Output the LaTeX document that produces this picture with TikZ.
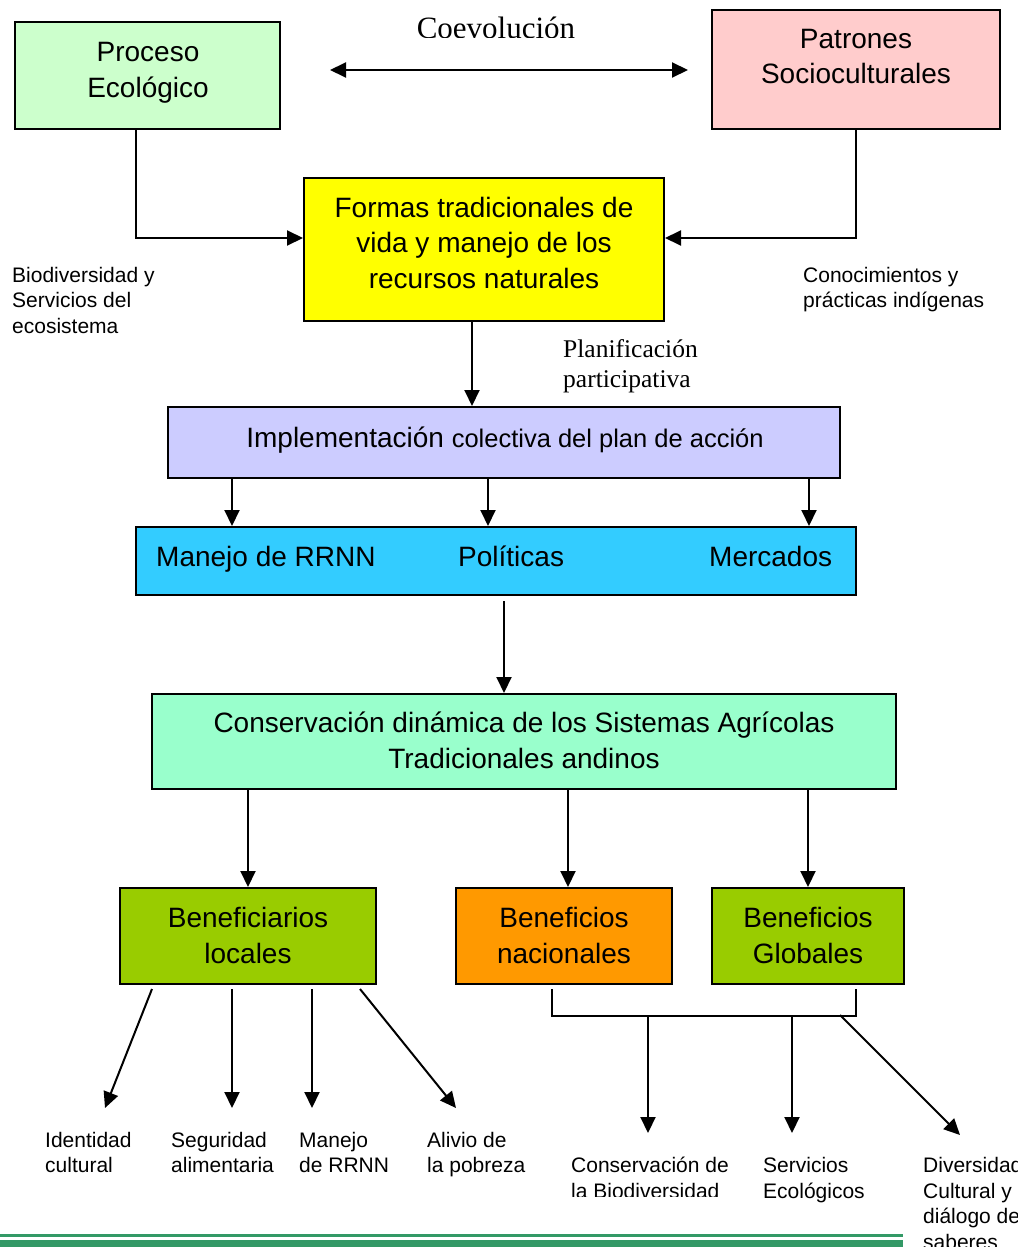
\documentclass[tikz,border=0pt]{standalone}
\usepackage{fontspec}
\setmainfont{Liberation Serif}
\setsansfont{Liberation Sans}
\usetikzlibrary{arrows.meta,calc}
\definecolor{cProc}{HTML}{CCFFCC}
\definecolor{cPatr}{HTML}{FFCCCC}
\definecolor{cForm}{HTML}{FFFF00}
\definecolor{cImpl}{HTML}{CCCCFF}
\definecolor{cBlue}{HTML}{33CCFF}
\definecolor{cCons}{HTML}{99FFCC}
\definecolor{cLime}{HTML}{99CC00}
\definecolor{cOran}{HTML}{FF9900}
\definecolor{cBar}{HTML}{339966}
\newcommand\bigf{\fontsize{28}{35.5}\selectfont}
\newcommand\midf{\fontsize{25.5}{30}\selectfont}
\newcommand\smallf{\fontsize{21}{25.5}\selectfont}
\newcommand\serf{\fontsize{25.5}{30}\selectfont}
\newcommand\coevf{\fontsize{31}{36}\selectfont}
\begin{document}
\begin{tikzpicture}[x=1pt,y=-1pt,
  box/.style={draw,line width=2pt,inner sep=0pt,rectangle},
  txt/.style={inner sep=0pt,anchor=base,align=center,font=\sffamily\bigf},
  btxt/.style={inner sep=0pt,anchor=base west,font=\sffamily\bigf},
  lbl/.style={inner sep=0pt,anchor=base west,align=left,font=\sffamily\smallf},
  stxt/.style={inner sep=0pt,anchor=base west,align=left,font=\rmfamily\serf},
  tipA/.tip={Triangle[length=16pt,width=15pt]},
  arr/.style={line width=2pt,-tipA},
  ln/.style={line width=2pt}]
\useasboundingbox (0,0) rectangle (1017,1247);

% boxes
\node[box,fill=cProc,minimum width=265pt,minimum height=107pt] (proc) at (147.5,75.5) {};
\node[box,fill=cPatr,minimum width=288pt,minimum height=119pt] (patr) at (856,69.5) {};
\node[box,fill=cForm,minimum width=360pt,minimum height=143pt] (formas) at (484,249.5) {};
\node[box,fill=cImpl,minimum width=672pt,minimum height=71pt] (impl) at (504,442.5) {};
\node[box,fill=cBlue,minimum width=720pt,minimum height=68pt] (blue) at (496,561) {};
\node[box,fill=cCons,minimum width=744pt,minimum height=95pt] (cons) at (524,741.5) {};
\node[box,fill=cLime,minimum width=256pt,minimum height=96pt] (benL) at (248,936) {};
\node[box,fill=cOran,minimum width=216pt,minimum height=96pt] (benN) at (564,936) {};
\node[box,fill=cLime,minimum width=192pt,minimum height=96pt] (benG) at (808,936) {};

% box texts (base = last line's baseline)
\node[txt] (procT) at (148,97) {Proceso\\Ecológico};
\node[txt] (patrT) at (856,84) {Patrones\\Socioculturales};
\node[txt] (formasT) at (484,288) {Formas tradicionales de\\vida y manejo de los\\recursos naturales};
\node[txt] (implT) at (505,447) {Implementación {\midf colectiva del plan de acción}};
\node[btxt] (bl1) at (156,566) {Manejo de RRNN};
\node[btxt] (bl2) at (458,566) {Políticas};
\node[btxt] (bl3) at (709,566) {Mercados};
\node[txt] (consT) at (524,768) {Conservación dinámica de los Sistemas Agrícolas\\Tradicionales andinos};
\node[txt] (benLT) at (248,963) {Beneficiarios\\locales};
\node[txt] (benNT) at (564,963) {Beneficios\\nacionales};
\node[txt] (benGT) at (808,963) {Beneficios\\Globales};

% side labels
\begin{scope}
\clip (380,0) rectangle (620,37.5);
\node[inner sep=0pt,anchor=base,font=\rmfamily\coevf] (coev) at (496,39) {Coevolución};
\end{scope}
\node[lbl] (bio) at (12,333) {Biodiversidad y\\Servicios del\\ecosistema};
\node[lbl] (cono) at (803,307.5) {Conocimientos y\\prácticas indígenas};
\node[stxt] (plan) at (563,387) {Planificación\\participativa};

% bottom labels
\node[lbl] (l1) at (45,1172.5) {Identidad\\cultural};
\node[lbl] (l2) at (171,1172.5) {Seguridad\\alimentaria};
\node[lbl] (l3) at (299,1172.5) {Manejo\\de RRNN};
\node[lbl] (l4) at (427,1172.5) {Alivio de\\la pobreza};
\begin{scope}
\clip (560,1140) rectangle (760,1196);
\node[lbl] (l5) at (571,1198) {Conservación de\\la Biodiversidad};
\end{scope}
\node[lbl] (l6) at (763,1198) {Servicios\\Ecológicos};
\node[lbl] (l7) at (923,1249) {Diversidad\\Cultural y\\diálogo de\\saberes};

% connectors
\coordinate (cvL) at (330,70);
\coordinate (cvR) at (688,70);
\draw[line width=2pt,tipA-tipA] (cvL) -- (cvR);

\coordinate (pA) at ([xshift=-11.5pt]proc.south);
\draw[arr] (pA) |- ([yshift=11.5pt]formas.west);
\draw[arr] (patr.south) |- ([yshift=11.5pt]formas.east);

\coordinate (fA) at ([xshift=-12pt]formas.south);
\draw[arr] (fA) -- (fA |- impl.north);

\coordinate (ia) at ([xshift=-272pt]impl.south);
\coordinate (ib) at ([xshift=-16pt]impl.south);
\coordinate (ic) at ([xshift=305pt]impl.south);
\draw[arr] (ia) -- (ia |- blue.north);
\draw[arr] (ib) -- (ib |- blue.north);
\draw[arr] (ic) -- (ic |- blue.north);

\coordinate (bA) at ([xshift=8pt,yshift=-5pt]blue.south);
\draw[arr] (bA) -- (bA |- cons.north);

\draw[arr] (cons.south -| benL.north) -- (benL.north);
\coordinate (cB) at ([xshift=4pt]benN.north);
\draw[arr] (cons.south -| cB) -- (cB);
\draw[arr] (cons.south -| benG.north) -- (benG.north);

% local beneficiaries arrows
\coordinate (s1) at ([xshift=-96pt,yshift=-4pt]benL.south);
\coordinate (s2) at ([xshift=-16pt,yshift=-4pt]benL.south);
\coordinate (s3) at ([xshift=64pt,yshift=-4pt]benL.south);
\coordinate (s4) at ([xshift=112pt,yshift=-4pt]benL.south);
\coordinate (e1) at (105,1108);
\coordinate (e2) at (232,1108);
\coordinate (e3) at (312,1108);
\coordinate (e4) at (456,1108);
\draw[arr] (s1) -- (e1);
\draw[arr] (s2) -- (e2);
\draw[arr] (s3) -- (e3);
\draw[arr] (s4) -- (e4);

% bracket
\coordinate (brL) at ([xshift=-12pt,yshift=-4pt]benN.south);
\coordinate (brR) at ([xshift=48pt,yshift=-4pt]benG.south);
\draw[ln] (brL) -- ++(0,27) -| (brR);
\coordinate (m1) at (648,1015);
\coordinate (m2) at (792,1015);
\coordinate (m3) at (840,1015);
\coordinate (n1) at (648,1133);
\coordinate (n2) at (792,1133);
\coordinate (n3) at (960,1135);
\draw[arr] (m1) -- (n1);
\draw[arr] (m2) -- (n2);
\draw[arr] (m3) -- (n3);

% bottom green bar
\fill[cBar] (0,1234) rectangle (903,1236.5);
\fill[cBar] (0,1239.5) rectangle (903,1247);
\end{tikzpicture}
\end{document}
